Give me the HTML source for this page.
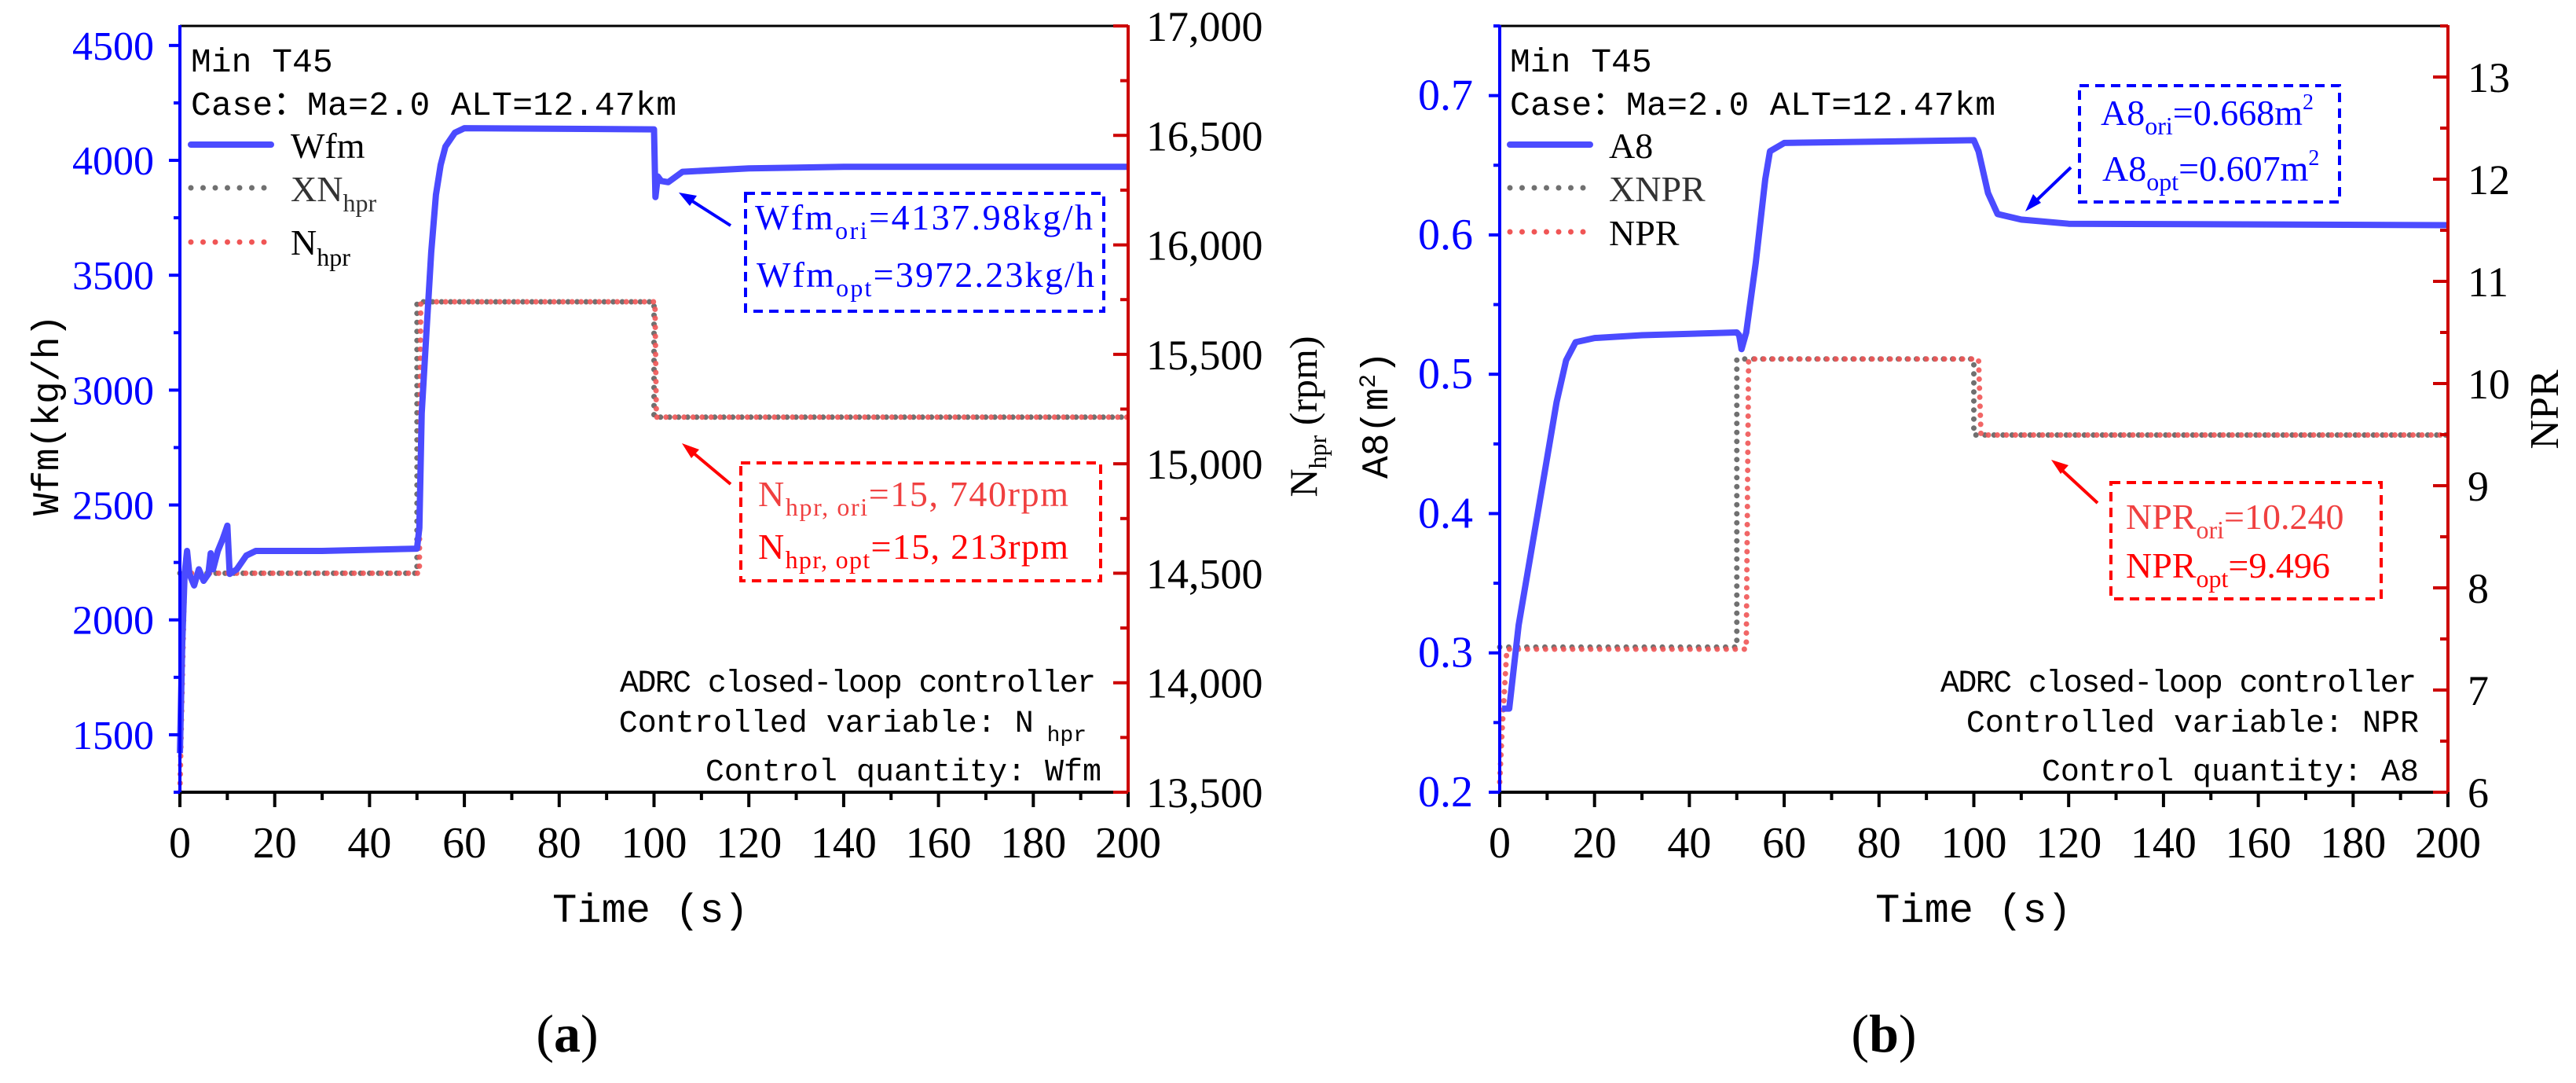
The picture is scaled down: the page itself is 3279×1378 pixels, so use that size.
<!DOCTYPE html>
<html><head><meta charset="utf-8"><style>
html,body{margin:0;padding:0;background:#fff;}
svg{display:block;}
text{font-family:"Liberation Serif","Noto Serif CJK SC",serif;}
.mono{font-family:"Liberation Mono","Noto Sans CJK SC",monospace;}
</style></head><body>
<svg id="fig" width="3279" height="1378" viewBox="0 0 3279 1378" xmlns="http://www.w3.org/2000/svg"></svg>
<script>
// ---- shared axis data ----
const xTicks = [0,20,40,60,80,100,120,140,160,180,200];
// ---- panel (a) data ----
const aLeftTicks = [1500,2000,2500,3000,3500,4000,4500];
const aRightTicks = [13500,14000,14500,15000,15500,16000,16500,17000];
const aRightLabels = ["13,500","14,000","14,500","15,000","15,500","16,000","16,500","17,000"];
const wfmT = [0,0.5,1,1.5,2,3,4,5,6,6.5,7,8,9,10,10.5,12,14,16,30,50,50.5,51,52,53,54,55,56,58,60,100,100.3,100.8,101.5,103,106,120,140,200];
const wfmV = [1420,1900,2200,2300,2200,2150,2220,2170,2200,2290,2220,2300,2350,2410,2200,2220,2280,2300,2300,2310,2400,2900,3250,3600,3850,3980,4060,4120,4140,4135,3840,3930,3910,3905,3950,3965,3972,3972];
const nhprT = [0,1,50.5,50.8,100.2,100.5,200];
const nhprV = [13500,14500,14500,15740,15740,15213,15213];
const xnT = [0,50,50,100,100,200];
const xnV = [14500,14500,15740,15740,15213,15213];
// ---- panel (b) data ----
const bLeftTicks = [0.2,0.3,0.4,0.5,0.6,0.7];
const bRightTicks = [6,7,8,9,10,11,12,13];
const a8T = [0.5,2,4,8,12,14,16,20,30,50,50.5,51,52,54,56,57,60,100,101,103,105,110,120,200];
const a8V = [0.26,0.26,0.32,0.4,0.48,0.51,0.523,0.526,0.528,0.53,0.528,0.518,0.53,0.58,0.64,0.66,0.666,0.668,0.66,0.63,0.615,0.611,0.608,0.607];
const nprT = [0,0.5,1,1.5,52,52.5,101,101.5,200];
const nprV = [6.1,6.6,7.0,7.4,7.4,10.24,10.24,9.496,9.496];
const xnprT = [0,50,50,100,100,200];
const xnprV = [7.42,7.42,10.24,10.24,9.496,9.496];

const NS="http://www.w3.org/2000/svg";
const SERIF='"Liberation Serif", "Noto Serif CJK SC", serif';
const svg=document.getElementById('fig');
function mk(tag,attrs,parent,txt){const e=document.createElementNS(NS,tag);for(const k in attrs)e.setAttribute(k,attrs[k]);if(txt!==undefined)e.textContent=txt;(parent||svg).appendChild(e);return e;}
function grp(name){const g=document.createElementNS(NS,'g');


svg.appendChild(g);return g;}

function panel(p){
  const X0=p.x0,X1=p.x0+1207,Y0=33,Y1=1008;
  const sx=t=>X0+(t-0)/200*(X1-X0);
  const syL=v=>Y1-(v-p.lmin)/(p.lmax-p.lmin)*(Y1-Y0);
  const syR=v=>Y1-(v-p.rmin)/(p.rmax-p.rmin)*(Y1-Y0);
  const g=grp(p.name);
  function path(T,V,sy,style,name){
    let d='';for(let i=0;i<T.length;i++)d+=(i?'L':'M')+sx(T[i]).toFixed(1)+','+sy(V[i]).toFixed(1);
    const e=mk('path',Object.assign({d:d,fill:'none'},style),g);
    
    
  }
  const dotG={stroke:'#707070','stroke-width':7,'stroke-dasharray':'0 11.5','stroke-linecap':'round'};
  const dotR={stroke:'#f05555','stroke-width':7,'stroke-dasharray':'0 11.5','stroke-linecap':'round',opacity:0.9};
  const solid={stroke:'#4b4bff','stroke-width':8,'stroke-linejoin':'round'};
  path(p.xT,p.xV,syR,dotG,p.xName+'-line');
  path(p.rT,p.rV,syR,dotR,p.rName+'-line');
  path(p.lT,p.lV,syL,solid,p.lName+'-line');
  mk('line',{x1:X0,y1:Y0,x2:X1,y2:Y0,stroke:'#000','stroke-width':3},g);
  mk('line',{x1:X0-2,y1:Y1,x2:X1+2,y2:Y1,stroke:'#000','stroke-width':4},g);
  mk('line',{x1:X0,y1:Y0-1,x2:X0,y2:Y1+2,stroke:'#0000ff','stroke-width':4},g);
  mk('line',{x1:X1,y1:Y0-1,x2:X1,y2:Y1+2,stroke:'#cc0000','stroke-width':4},g);
  for(let t=0;t<=200;t+=10){const maj=t%20===0;mk('line',{x1:sx(t),y1:Y1,x2:sx(t),y2:Y1+(maj?19:10),stroke:'#000','stroke-width':4},g);}
  xTicks.forEach(t=>{const e=mk('text',{x:sx(t),y:1091,'font-size':56,'text-anchor':'middle','font-family':SERIF},g,String(t));
    
    });
  for(let v=p.lmin;v<=p.lmax+1e-9;v+=p.lminor){const maj=Math.abs(Math.round(v/p.lmajor)*p.lmajor-v)<1e-6;
    mk('line',{x1:X0,y1:syL(v),x2:X0-(maj?14:8),y2:syL(v),stroke:'#0000ff','stroke-width':4},g);}
  p.lTicks.forEach(v=>{const e=mk('text',{x:p.lLabX,y:syL(v)+18,'font-size':p.lfs,'text-anchor':'end',fill:'#0000ff','font-family':SERIF},g,p.lFmt(v));
    
    });
  for(let v=p.rmin;v<=p.rmax+1e-9;v+=p.rminor){const maj=Math.abs(Math.round(v/p.rmajor)*p.rmajor-v)<1e-6;
    mk('line',{x1:X1,y1:syR(v),x2:X1-(maj?19:10),y2:syR(v),stroke:'#cc0000','stroke-width':4},g);}
  p.rTicks.forEach((v,i)=>{const e=mk('text',{x:p.rLabX,y:syR(v)+19,'font-size':54,'font-family':SERIF},g,p.rLabels[i]);
    
    });
}

panel({name:'panel-a',x0:229,lmin:1250,lmax:4585,rmin:13500,rmax:17000,lminor:250,lmajor:500,rminor:250,rmajor:500,
  lT:wfmT,lV:wfmV,rT:nhprT,rV:nhprV,xT:xnT,xV:xnV,lName:'wfm',rName:'nhpr',xName:'xnhpr',
  lTicks:aLeftTicks,lFmt:v=>String(v),lLabX:196,lfs:52,rTicks:aRightTicks,rLabels:aRightLabels,rLabX:1459});
panel({name:'panel-b',x0:1909,lmin:0.2,lmax:0.75,rmin:6,rmax:13.5,lminor:0.05,lmajor:0.1,rminor:0.5,rmajor:1,
  lT:a8T,lV:a8V,rT:nprT,rV:nprV,xT:xnprT,xV:xnprV,lName:'a8',rName:'npr',xName:'xnpr',
  lTicks:bLeftTicks,lFmt:v=>v.toFixed(1),lLabX:1875,lfs:56,rTicks:bRightTicks,rLabels:bRightTicks.map(String),rLabX:3141});
</script>
<svg width="3279" height="1378" viewBox="0 0 3279 1378" style="position:absolute;left:0;top:0" xmlns="http://www.w3.org/2000/svg">
<g>
<text class="mono" x="243" y="91" font-size="43">Min T45</text>
<text class="mono" x="243" y="146" font-size="43" textLength="618">Case：Ma=2.0 ALT=12.47km</text>
<line x1="243" y1="184" x2="345" y2="184" stroke="#4b4bff" stroke-width="8" stroke-linecap="round"/>
<text x="370" y="201" font-size="46">Wfm</text>
<line x1="243" y1="239" x2="340" y2="239" stroke="#707070" stroke-width="7" stroke-dasharray="0 15.5" stroke-linecap="round"/>
<text x="370" y="256" font-size="46" fill="#333">XN<tspan font-size="32" dy="13">hpr</tspan></text>
<line x1="243" y1="308" x2="340" y2="308" stroke="#f05555" stroke-width="7" stroke-dasharray="0 15.5" stroke-linecap="round"/>
<text x="370" y="324" font-size="46">N<tspan font-size="32" dy="14">hpr</tspan></text>
<rect x="949" y="246" width="456" height="150" fill="none" stroke="#0000ff" stroke-width="4" stroke-dasharray="12 8"/>
<text x="961" y="292" font-size="46" fill="#0000ff" textLength="430">Wfm<tspan font-size="32" dy="12">ori</tspan><tspan dy="-12">=4137.98kg/h</tspan></text>
<text x="963" y="365" font-size="46" fill="#0000ff" textLength="430">Wfm<tspan font-size="32" dy="12">opt</tspan><tspan dy="-12">=3972.23kg/h</tspan></text>
<line x1="930" y1="287" x2="872" y2="250" stroke="#0000ff" stroke-width="4"/>
<path d="M864,245 L887,249 L878,262z" fill="#0000ff"/>
<rect x="943" y="589" width="458" height="150" fill="none" stroke="#ff0000" stroke-width="4" stroke-dasharray="12 8"/>
<text x="965" y="644" font-size="46" fill="#f04040" textLength="395">N<tspan font-size="32" dy="12">hpr, ori</tspan><tspan dy="-12">=15, 740rpm</tspan></text>
<text x="965" y="711" font-size="46" fill="#ff0000" textLength="395">N<tspan font-size="32" dy="12">hpr, opt</tspan><tspan dy="-12">=15, 213rpm</tspan></text>
<line x1="930" y1="616" x2="875" y2="570" stroke="#ff0000" stroke-width="4"/>
<path d="M868,564 L890,572 L880,583z" fill="#ff0000"/>
<text class="mono" x="1395" y="880" font-size="40" text-anchor="end" textLength="606">ADRC closed-loop controller</text>
<text class="mono" x="1383" y="931" font-size="40" text-anchor="end">Controlled variable: N<tspan font-size="28" dy="12"> hpr</tspan></text>
<text class="mono" x="1402" y="993" font-size="40" text-anchor="end">Control quantity: Wfm</text>
<text class="mono" x="828" y="1173" font-size="52" text-anchor="middle">Time (s)</text>
<text class="mono" x="0" y="0" font-size="48" text-anchor="middle" transform="translate(74,528) rotate(-90)" textLength="256">Wfm(kg/h)</text>
<text x="0" y="0" font-size="50" text-anchor="middle" transform="translate(1676,530) rotate(-90)">N<tspan font-size="32" dy="12">hpr</tspan><tspan dy="-12"> (rpm)</tspan></text>
<text x="722" y="1338" font-size="68" text-anchor="middle">(<tspan font-weight="bold">a</tspan>)</text>
</g>
<g>
<text class="mono" x="1922" y="91" font-size="43">Min T45</text>
<text class="mono" x="1922" y="146" font-size="43" textLength="618">Case：Ma=2.0 ALT=12.47km</text>
<line x1="1922" y1="184" x2="2024" y2="184" stroke="#4b4bff" stroke-width="8" stroke-linecap="round"/>
<text x="2048" y="201" font-size="46">A8</text>
<line x1="1922" y1="239" x2="2019" y2="239" stroke="#707070" stroke-width="7" stroke-dasharray="0 15.5" stroke-linecap="round"/>
<text x="2048" y="256" font-size="46" fill="#333">XNPR</text>
<line x1="1922" y1="295" x2="2019" y2="295" stroke="#f05555" stroke-width="7" stroke-dasharray="0 15.5" stroke-linecap="round"/>
<text x="2048" y="312" font-size="46">NPR</text>
<rect x="2647" y="109" width="331" height="148" fill="none" stroke="#0000ff" stroke-width="4" stroke-dasharray="12 8"/>
<text x="2674" y="159" font-size="46" fill="#0000ff">A8<tspan font-size="32" dy="12">ori</tspan><tspan dy="-12">=0.668m</tspan><tspan font-size="28" dy="-20">2</tspan></text>
<text x="2676" y="230" font-size="46" fill="#0000ff">A8<tspan font-size="32" dy="12">opt</tspan><tspan dy="-12">=0.607m</tspan><tspan font-size="28" dy="-20">2</tspan></text>
<line x1="2636" y1="213" x2="2585" y2="262" stroke="#0000ff" stroke-width="4"/>
<path d="M2578,269 L2588,247 L2598,258z" fill="#0000ff"/>
<rect x="2687" y="614" width="344" height="148" fill="none" stroke="#ff0000" stroke-width="4" stroke-dasharray="12 8"/>
<text x="2706" y="673" font-size="46" fill="#f04040">NPR<tspan font-size="32" dy="12">ori</tspan><tspan dy="-12">=10.240</tspan></text>
<text x="2706" y="735" font-size="46" fill="#ff0000">NPR<tspan font-size="32" dy="12">opt</tspan><tspan dy="-12">=9.496</tspan></text>
<line x1="2670" y1="640" x2="2618" y2="592" stroke="#ff0000" stroke-width="4"/>
<path d="M2611,585 L2633,592 L2623,603z" fill="#ff0000"/>
<text class="mono" x="3076" y="880" font-size="40" text-anchor="end" textLength="606">ADRC closed-loop controller</text>
<text class="mono" x="3079" y="931" font-size="40" text-anchor="end">Controlled variable: NPR</text>
<text class="mono" x="3079" y="993" font-size="40" text-anchor="end">Control quantity: A8</text>
<text class="mono" x="2512" y="1173" font-size="52" text-anchor="middle">Time (s)</text>
<text class="mono" x="0" y="0" font-size="48" text-anchor="middle" transform="translate(1766,528) rotate(-90)">A8(m<tspan font-size="30" dy="-16">2</tspan><tspan dy="16">)</tspan></text>
<text x="0" y="0" font-size="52" text-anchor="middle" transform="translate(3256,521) rotate(-90)">NPR</text>
<text x="2398" y="1338" font-size="68" text-anchor="middle">(<tspan font-weight="bold">b</tspan>)</text>
</g>
</svg>
</body></html>
